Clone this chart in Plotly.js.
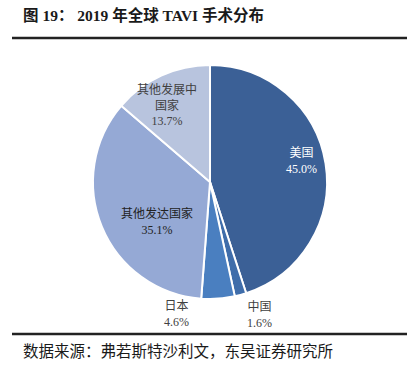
<!DOCTYPE html>
<html>
<head>
<meta charset="utf-8">
<script src="https://cdn.plot.ly/plotly-3.0.1.min.js"></script>
<style>html,body{margin:0;padding:0;background:#fff;}#chart{width:417px;height:370px;}</style>
</head>
<body>
<div id="chart"></div>
<script>
const categories = ["美国", "中国", "日本", "其他发达国家", "其他发展中国家"];
const shares = [45.0, 1.6, 4.6, 35.1, 13.7];
const labelLines = [["美国"], ["中国"], ["日本"], ["其他发达国家"], ["其他发展中", "国家"]];

const colors = ["#3B6096", "#3F6DAA", "#4A7FC0", "#95A9D5", "#B8C4DE"];
const labelPos = [[301, 161], [259, 314], [176, 314], [157, 221], [167, 105]];
const labelColors = ["#ffffff", "#404040", "#404040", "#222222", "#404040"];

const W = 417, H = 370;
const font = "Liberation Serif, Noto Sans CJK SC, serif";

const annotations = categories.map((c, i) => ({
  text: labelLines[i].join("<br>") + "<br>" + shares[i].toFixed(1) + "%",
  x: labelPos[i][0] / W, y: 1 - labelPos[i][1] / H,
  xref: "paper", yref: "paper", showarrow: false,
  xanchor: "center", yanchor: "middle",
  font: {family: font, size: 12, color: labelColors[i]},
  align: "center"
}));

annotations.push({
  text: "<b>图 19： 2019 年全球 TAVI 手术分布</b>",
  x: 21 / W, y: 1 - 15 / H, xref: "paper", yref: "paper",
  xanchor: "left", yanchor: "middle", showarrow: false,
  font: {family: font, size: 15.5, color: "#1a1a1a"}
});
annotations.push({
  text: "数据来源：弗若斯特沙利文，东吴证券研究所",
  x: 21 / W, y: 1 - 351 / H, xref: "paper", yref: "paper",
  xanchor: "left", yanchor: "middle", showarrow: false,
  font: {family: font, size: 15.5, color: "#1a1a1a"}
});

const trace = {
  type: "pie",
  labels: categories,
  values: shares,
  sort: false,
  direction: "clockwise",
  rotation: 0,
  textinfo: "none",
  hoverinfo: "label+percent",
  marker: {colors: colors, line: {color: "#ffffff", width: 2}},
  domain: {x: [93 / W, 327 / W], y: [1 - 299 / H, 1 - 65 / H]},
  showlegend: false
};

const layout = {
  width: W, height: H,
  margin: {l: 0, r: 0, t: 0, b: 0},
  paper_bgcolor: "#ffffff",
  showlegend: false,
  annotations: annotations,
  shapes: [
    {type: "line", xref: "paper", yref: "paper", x0: 12 / W, x1: 407 / W, y0: 1 - 38 / H, y1: 1 - 38 / H, line: {color: "#222", width: 2.5}},
    {type: "line", xref: "paper", yref: "paper", x0: 12 / W, x1: 407 / W, y0: 1 - 334 / H, y1: 1 - 334 / H, line: {color: "#222", width: 2.5}}
  ]
};

Plotly.newPlot("chart", [trace], layout, {staticPlot: true, displayModeBar: false});
</script>
</body>
</html>
